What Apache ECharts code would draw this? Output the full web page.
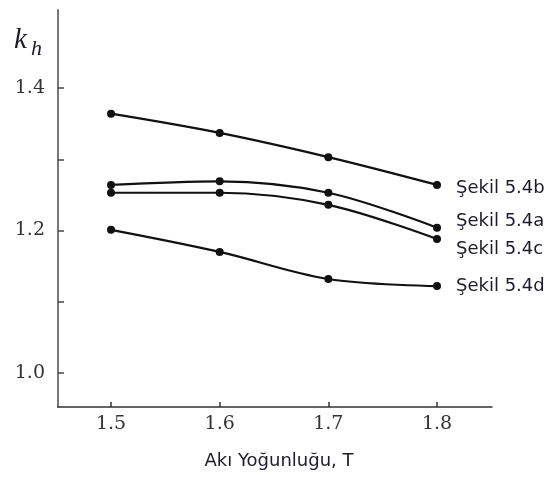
<!DOCTYPE html>
<html>
<head>
<meta charset="utf-8">
<script src="https://cdn.jsdelivr.net/npm/echarts@6/dist/echarts.min.js"></script>
<style>html,body{margin:0;padding:0;background:#fff;}#c{width:549px;height:478px;}</style>
</head>
<body>
<div id="c"></div>
<script>
var xValues = [1.5, 1.6, 1.7, 1.8];
var seriesNames = ['Şekil 5.4b', 'Şekil 5.4a', 'Şekil 5.4c', 'Şekil 5.4d'];
var s54b = [1.364, 1.337, 1.303, 1.264];
var s54a = [1.264, 1.269, 1.253, 1.204];
var s54c = [1.253, 1.253, 1.236, 1.188];
var s54d = [1.201, 1.170, 1.132, 1.122];
var xTicks = [1.5, 1.6, 1.7, 1.8];
var yTicks = [1.0, 1.1, 1.2, 1.3, 1.4];
var yLabels = [1.0, 1.2, 1.4];
var xTitle = 'Akı Yoğunluğu, T';

var allValues = [s54b, s54a, s54c, s54d];
var labelOffsets = [[0, 3], [0, -6], [0, 10], [0, 0]];

function pairs(vals) {
  return vals.map(function (v, i) { return [xValues[i], v]; });
}

var series = allValues.map(function (vals, k) {
  return {
    name: seriesNames[k],
    type: 'line',
    data: pairs(vals),
    smooth: 0.35,
    symbol: 'circle',
    symbolSize: 8,
    lineStyle: { color: '#111', width: 2.2 },
    itemStyle: { color: '#111' },
    endLabel: {
      show: true,
      formatter: seriesNames[k],
      distance: 19,
      offset: labelOffsets[k],
      color: '#1c1c2a',
      fontFamily: 'DejaVu Sans',
      fontSize: 18
    },
    emphasis: { disabled: true }
  };
});

var chart = echarts.init(document.getElementById('c'), null, { renderer: 'canvas' });
chart.setOption({
  animation: false,
  backgroundColor: '#fff',
  grid: { left: 58, right: 57, top: 10, bottom: 71 },
  xAxis: {
    type: 'value',
    min: 1.4512,
    max: 1.8506,
    name: xTitle,
    nameLocation: 'middle',
    nameGap: 45,
    nameTextStyle: { fontFamily: 'DejaVu Sans', fontSize: 18, color: '#1c1c2a', padding: [0, 0, 0, 8] },
    axisLine: { show: true, lineStyle: { color: '#333', width: 1.5 } },
    axisTick: { show: true, inside: true, length: 5, customValues: xTicks, lineStyle: { color: '#333', width: 1.5 } },
    axisLabel: {
      customValues: xTicks,
      formatter: function (v) { return v.toFixed(1); },
      margin: 8,
      fontFamily: 'DejaVu Serif',
      fontSize: 19,
      color: '#333'
    },
    splitLine: { show: false }
  },
  yAxis: {
    type: 'value',
    min: 0.9523,
    max: 1.5095,
    axisLine: { show: true, lineStyle: { color: '#777', width: 2 } },
    axisTick: { show: true, inside: true, length: 6, customValues: yTicks, lineStyle: { color: '#444', width: 1.5 } },
    axisLabel: {
      customValues: yLabels,
      formatter: function (v) { return v.toFixed(1); },
      margin: 13,
      fontFamily: 'DejaVu Serif',
      fontSize: 19,
      color: '#333'
    },
    splitLine: { show: false }
  },
  graphic: [
    { type: 'text', left: 14, top: 26, style: { text: 'k', fontFamily: 'Liberation Serif', fontStyle: 'italic', fontSize: 29, fill: '#1c1c2a' } },
    { type: 'text', left: 31, top: 38, style: { text: 'h', fontFamily: 'Liberation Serif', fontStyle: 'italic', fontSize: 22, fill: '#1c1c2a' } }
  ],
  series: series
});
</script>
</body>
</html>
